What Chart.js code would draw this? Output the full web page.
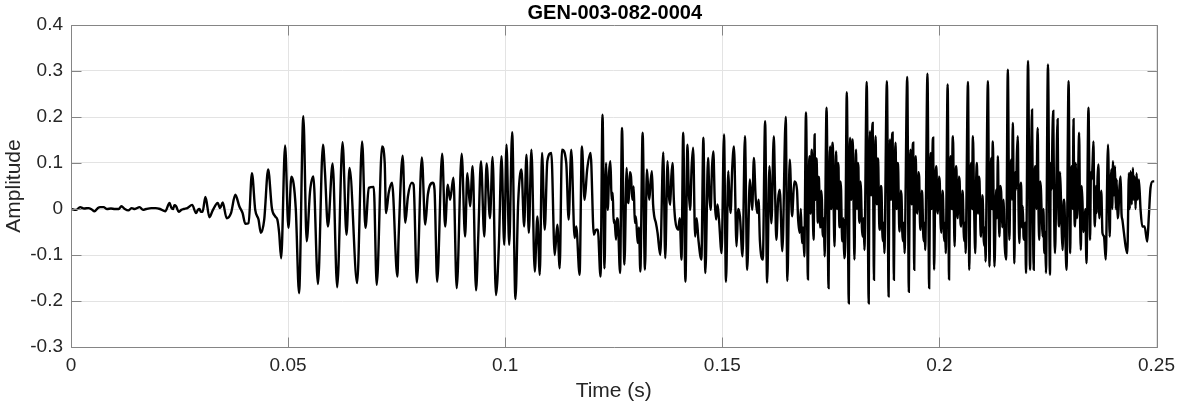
<!DOCTYPE html>
<html>
<head>
<meta charset="utf-8">
<title>GEN-003-082-0004</title>
<script src="https://cdn.jsdelivr.net/npm/chart.js@4.4.0/dist/chart.umd.min.js"></script>
<style>
  html, body { margin: 0; padding: 0; background: #ffffff; }
  #wrap { width: 1182px; height: 404px; position: relative; }
</style>
</head>
<body>
<div id="wrap"><canvas id="waveChart"></canvas></div>
<script>
const chartTitle = "GEN-003-082-0004";
const xAxisLabel = "Time (s)";
const yAxisLabel = "Amplitude";

const xTickValues = [0, 0.05, 0.1, 0.15, 0.2, 0.25];
const xTickLabels = ["0", "0.05", "0.1", "0.15", "0.2", "0.25"];
const yTickValues = [-0.3, -0.2, -0.1, 0, 0.1, 0.2, 0.3, 0.4];
const yTickLabels = ["-0.3", "-0.2", "-0.1", "0", "0.1", "0.2", "0.3", "0.4"];

// waveform, one pair of arrays per stretch of time
// quiet start and onset (0 - 0.075 s)
const onsetTime = [0, 0.0012, 0.0021, 0.003, 0.004, 0.0048, 0.0054, 0.0062, 0.0067, 0.0075,
  0.0083, 0.0092, 0.0101, 0.011, 0.0116, 0.0124, 0.0132, 0.014, 0.0147, 0.0158,
  0.0166, 0.0173, 0.0185, 0.0195, 0.0205, 0.0217, 0.0227, 0.0231, 0.0235, 0.0238,
  0.0242, 0.0248, 0.0254, 0.026, 0.0268, 0.0279, 0.0288, 0.0292, 0.0296, 0.0299,
  0.0303, 0.03096, 0.03188, 0.03264, 0.03379, 0.03433, 0.03494, 0.03585, 0.03685, 0.03784,
  0.03876, 0.03952, 0.04014, 0.0409, 0.04167, 0.04243, 0.04319, 0.04372, 0.0445, 0.04541,
  0.04626, 0.04702, 0.04752, 0.04794, 0.0484, 0.04931, 0.05007, 0.05076, 0.05176, 0.05252,
  0.05351, 0.05428, 0.05505, 0.05581, 0.05688, 0.05803, 0.05849, 0.05917, 0.06025, 0.06131,
  0.06254, 0.06345, 0.06415, 0.0659, 0.06705, 0.06781, 0.06858, 0.06972, 0.07041, 0.07164,
  0.07225, 0.07255, 0.07317, 0.07393, 0.07516];
const onsetAmp = [0, -0.002, 0.004, 0.001, 0.002, -0.001, -0.005, 0.002, 0.004, 0.004,
  0, 0.001, 0, 0, 0.006, 0, -0.003, 0.002, 0, 0.004,
  -0.002, 0, 0.002, 0.002, 0, -0.005, 0.013, 0.003, 0, 0.008,
  0.006, -0.006, -0.002, 0, 0.002, 0.009, -0.009, -0.002, 0, -0.006,
  -0.006, 0.026, -0.018, -0.003, 0.013, 0.002, 0.014, -0.02, -0.009, 0.031,
  0.006, -0.009, -0.032, -0.031, 0.078, -0.002, -0.023, -0.052, -0.023, 0.086,
  0.002, -0.016, -0.023, -0.052, -0.107, 0.138, -0.041, 0.07, 0.002, -0.183,
  0.202, -0.07, 0.038, 0.071, -0.163, 0.14, 0.08, -0.038, 0.099, -0.17,
  0.145, -0.056, 0.089, -0.161, 0.147, -0.041, 0.046, 0.048, -0.165, 0.136,
  0.1, -0.009, 0.035, 0.057, -0.147];

// 0.075 - 0.121 s
const midTime = [0.07546, 0.07638, 0.07699, 0.07759, 0.07851, 0.0789, 0.07966, 0.0808, 0.08158, 0.08218,
  0.08333, 0.08372, 0.08433, 0.08548, 0.08617, 0.08677, 0.08731, 0.08807, 0.08883, 0.08998,
  0.09076, 0.09128, 0.0919, 0.0925, 0.09328, 0.09381, 0.09442, 0.09518, 0.09571, 0.09649,
  0.09709, 0.09787, 0.09856, 0.09915, 0.09977, 0.1003, 0.10092, 0.1016, 0.10236, 0.10298,
  0.10374, 0.10436, 0.10489, 0.10544, 0.10603, 0.10681, 0.10741, 0.10796, 0.10849, 0.1091,
  0.1097, 0.11062, 0.1114, 0.112, 0.11255, 0.11307, 0.11406, 0.11461, 0.11521, 0.11599,
  0.11636, 0.11713, 0.11766, 0.11828, 0.11888, 0.11966, 0.12041, 0.12094];
const midAmp = [-0.06, 0.116, -0.03, 0.027, 0.057, 0.053, -0.16, 0.112, -0.034, 0.031,
  0.057, 0.042, -0.158, 0.12, -0.038, 0.053, 0.02, 0.068, -0.172, 0.12,
  -0.06, 0.078, 0.006, 0.093, -0.177, -0.056, 0.104, -0.06, 0.099, -0.02,
  0.113, -0.187, -0.074, 0.115, -0.078, 0.14, -0.078, 0.167, -0.196, 0.013,
  0.086, -0.038, 0.118, -0.052, 0.129, -0.136, -0.016, -0.143, 0.122, -0.045,
  0.104, 0.122, -0.1, -0.034, -0.129, 0.129, 0.1, -0.023, 0.129, -0.063,
  -0.038, -0.143, 0.136, 0.02, 0.086, 0.122, -0.056, -0.045];

// 0.121 - 0.167 s
const growthTime = [0.12133, 0.12195, 0.12241, 0.12287, 0.12323, 0.12343, 0.12362, 0.12393, 0.12424, 0.1245,
  0.12477, 0.12497, 0.12516, 0.12553, 0.12572, 0.12592, 0.12645, 0.1269, 0.12745, 0.12798,
  0.12821, 0.12844, 0.1287, 0.12897, 0.12928, 0.12959, 0.12985, 0.13011, 0.1305, 0.1308,
  0.13112, 0.13165, 0.13218, 0.13264, 0.1329, 0.13319, 0.13349, 0.13379, 0.13406, 0.13433,
  0.1347, 0.13509, 0.13571, 0.1364, 0.13686, 0.13739, 0.1377, 0.138, 0.13826, 0.13853,
  0.13884, 0.13915, 0.13984, 0.1402, 0.1406, 0.14099, 0.14151, 0.14197, 0.14228, 0.14259,
  0.14293, 0.14328, 0.14374, 0.1441, 0.1445, 0.14518, 0.14564, 0.1461, 0.14672, 0.14702,
  0.14732, 0.14763, 0.14794, 0.14825, 0.14856, 0.1489, 0.14924, 0.14984, 0.15039, 0.15085,
  0.15138, 0.15164, 0.1519, 0.15229, 0.15268, 0.15328, 0.15367, 0.15406, 0.15466, 0.15521,
  0.15573, 0.15635, 0.15688, 0.15727, 0.15765, 0.15803, 0.15835, 0.15865, 0.15933, 0.15986,
  0.16032, 0.16085, 0.16131, 0.16186, 0.16215, 0.16245, 0.16285, 0.16323, 0.16383, 0.16461,
  0.16498, 0.16553, 0.16606, 0.16658];
const growthAmp = [-0.045, -0.147, 0.205, -0.129, 0.1, 0.03, -0.002, 0.08, 0.104, 0.02,
  0.035, -0.03, -0.023, -0.067, -0.02, -0.023, -0.139, 0.176, -0.121, 0.089,
  0.02, 0.013, 0.08, 0.071, 0.02, 0.049, -0.03, -0.016, -0.074, -0.04,
  -0.136, 0.166, -0.132, 0.086, 0.05, 0.02, 0.06, 0.082, 0.01, -0.016,
  -0.03, -0.052, -0.1, 0.123, -0.107, 0.104, 0.03, 0.009, 0.07, 0.1,
  0.02, -0.023, -0.045, -0.02, -0.11, 0.166, -0.158, 0.14, 0.04, -0.002,
  0.09, 0.133, -0.06, -0.02, -0.067, -0.11, 0.155, -0.139, 0.111, 0.03,
  -0.002, 0.09, 0.125, 0.02, -0.023, 0.01, -0.023, -0.096, 0.162, -0.158,
  0.082, 0.02, -0.009, 0.09, 0.136, -0.081, 0, -0.016, -0.103, 0.158,
  -0.132, 0.064, -0.002, 0.111, 0.03, -0.009, 0.02, -0.067, -0.11, 0.191,
  -0.16, 0.093, -0.031, 0.158, 0.04, -0.067, 0.02, 0.042, -0.092, 0.2,
  -0.156, 0.107, -0.016, 0.06];

// 0.167 - 0.213 s, one row per spike period
const peakTime = [
  0.1672, 0.16745, 0.16782, 0.16808, 0.16835, 0.1686, 0.16888, 0.16927, 0.16972, 0.16992, 0.17011, 0.17024,
  0.17037, 0.1705, 0.17064, 0.17083, 0.17103, 0.17126, 0.17139, 0.17152, 0.17165, 0.17179, 0.17192, 0.17205,
  0.17218, 0.17232, 0.17247, 0.17262, 0.17278, 0.17294, 0.1731, 0.17325, 0.1734, 0.17355,
  0.17401, 0.17447, 0.17465, 0.17484, 0.175, 0.17515, 0.1753, 0.17546, 0.17565, 0.17585, 0.17603, 0.17622,
  0.17636, 0.1765, 0.17663, 0.17677, 0.17691, 0.17706, 0.17721, 0.17736, 0.17753, 0.1777, 0.17788, 0.17805, 0.17835,
  0.17867, 0.17913, 0.17928, 0.17943, 0.17958, 0.17974, 0.1799, 0.18005, 0.18024, 0.18044, 0.18062, 0.1808,
  0.18094, 0.18108, 0.18121, 0.18135, 0.1815, 0.18165, 0.1818, 0.18195, 0.18215, 0.18234, 0.18253, 0.18273,
  0.18326, 0.18372, 0.18387, 0.18402, 0.18417, 0.18432, 0.18447, 0.18463, 0.18478, 0.18493, 0.18512, 0.18532,
  0.18547, 0.18563, 0.18578, 0.18594, 0.18613, 0.18632, 0.18651, 0.1867, 0.18685, 0.187, 0.18716, 0.18732,
  0.18791, 0.1883, 0.18845, 0.1886, 0.18875, 0.18891, 0.18906, 0.18922, 0.18937, 0.18952, 0.18971, 0.18991,
  0.19006, 0.19022, 0.19037, 0.19053, 0.19071, 0.1909, 0.19109, 0.19128, 0.19145, 0.19162, 0.1918, 0.19197,
  0.19259, 0.19296, 0.19315, 0.19335, 0.1935, 0.19366, 0.19381, 0.19397, 0.19408, 0.1942, 0.19438, 0.19456,
  0.19475, 0.19495, 0.19514, 0.19534, 0.19553, 0.19572, 0.19591, 0.1961, 0.19625, 0.1964, 0.19656, 0.19672,
  0.19725, 0.19764, 0.19782, 0.198, 0.19814, 0.19828, 0.19842, 0.19856, 0.19867, 0.19878, 0.19905, 0.19931,
  0.1995, 0.19968, 0.19988, 0.20007, 0.20027, 0.20046, 0.20066, 0.20085, 0.201, 0.20115, 0.2013, 0.20145,
  0.2019, 0.20222, 0.2024, 0.20259, 0.20273, 0.20287, 0.203, 0.20314, 0.20333, 0.20351, 0.2037, 0.2039,
  0.20409, 0.20428, 0.20447, 0.20466, 0.20486, 0.20505, 0.20525, 0.20544, 0.20559, 0.20574, 0.20589, 0.20603,
  0.20658, 0.20688, 0.20711, 0.20734, 0.20744, 0.20754, 0.20763, 0.20773, 0.208, 0.20826, 0.20846, 0.20865,
  0.2088, 0.20895, 0.2091, 0.20924, 0.20944, 0.20963, 0.20983, 0.21002, 0.21017, 0.21032, 0.21047, 0.21062,
  0.21117, 0.21154, 0.21173, 0.21193, 0.21203, 0.21213, 0.21223, 0.21232, 0.2125, 0.21268];
const peakAmp = [
  0.042, -0.02, -0.052, 0, -0.074, -0.04, -0.103, 0.21, -0.153, 0.06, 0.115, 0,
  -0.01, 0.1, 0.129, 0, -0.067, 0.162, 0.03, 0.02, 0.11, 0.085, -0.01, -0.03,
  0.07, 0.05, -0.04, -0.038, 0.04, 0.02, -0.05, -0.06, -0.02, -0.103,
  0.22, -0.172, 0.05, 0.136, 0.02, 0, 0.12, 0.144, 0, -0.081, 0.06, 0.125,
  0.01, 0, 0.1, 0.09, -0.02, -0.04, 0.06, 0.04, -0.05, -0.07, -0.02, -0.107, -0.06,
  0.254, -0.205, 0.06, 0.155, 0.03, 0.02, 0.13, 0.151, 0, -0.11, 0.06, 0.129,
  0.01, 0, 0.1, 0.09, -0.02, -0.03, 0.06, 0.04, -0.04, -0.06, -0.02, -0.089,
  0.276, -0.205, 0.07, 0.169, 0.04, 0.03, 0.15, 0.187, 0, -0.154, 0.08, 0.158,
  0.02, 0.01, 0.11, 0.09, -0.03, -0.045, 0.05, 0.03, -0.05, -0.07, -0.03, -0.096,
  0.278, -0.19, 0.05, 0.151, 0.03, 0.02, 0.14, 0.166, 0, -0.154, 0.07, 0.144,
  0.02, 0, 0.1, 0.08, -0.03, -0.049, 0.04, 0.027, -0.05, -0.07, -0.03, -0.096,
  0.287, -0.18, 0.05, 0.129, 0.02, 0.01, 0.12, 0.144, 0, -0.132, 0.06, 0.115,
  0, -0.01, 0.08, 0.07, -0.03, -0.045, 0.04, 0.02, -0.05, -0.07, -0.03, -0.089,
  0.294, -0.172, 0.04, 0.122, 0.02, 0, 0.13, 0.155, 0, -0.132, 0.05, 0.093,
  0, -0.01, 0.07, 0.06, -0.03, -0.052, 0.04, 0.02, -0.05, -0.07, -0.03, -0.096,
  0.271, -0.153, 0.05, 0.115, 0.02, 0, 0.13, 0.158, 0, -0.081, 0.06, 0.093,
  0, -0.02, 0.07, 0.06, -0.03, -0.038, 0.04, 0.02, -0.05, -0.07, -0.03, -0.096,
  0.276, -0.132, 0.05, 0.1, 0.02, 0, 0.12, 0.158, 0, -0.096, 0.06, 0.1,
  0, -0.01, 0.07, 0.06, -0.04, -0.06, 0.03, 0.01, -0.06, -0.08, -0.04, -0.114,
  0.278, -0.125, 0.04, 0.111, 0.02, 0, 0.12, 0.147, 0, -0.125];

// 0.213 - 0.25 s
const tailTime = [0.21307, 0.21326, 0.21346, 0.21365, 0.21383, 0.21402, 0.21422, 0.21448, 0.21475, 0.21505,
  0.21537, 0.21576, 0.21612, 0.21631, 0.21651, 0.2167, 0.2169, 0.21727, 0.21746, 0.21766,
  0.21785, 0.21805, 0.21823, 0.21842, 0.21862, 0.21881, 0.219, 0.2192, 0.21938, 0.21956,
  0.21975, 0.21995, 0.22041, 0.22087, 0.2211, 0.22133, 0.22152, 0.22172, 0.2219, 0.22209,
  0.22237, 0.2225, 0.22264, 0.22282, 0.223, 0.2232, 0.22339, 0.22358, 0.22378, 0.22396,
  0.22415, 0.22435, 0.22454, 0.225, 0.22546, 0.22565, 0.22585, 0.22603, 0.22622, 0.22641,
  0.22661, 0.22692, 0.22707, 0.22722, 0.2274, 0.22759, 0.22778, 0.22798, 0.22818, 0.22837,
  0.22855, 0.22874, 0.229, 0.22928, 0.22975, 0.23011, 0.2303, 0.2305, 0.2307, 0.23089,
  0.23107, 0.23126, 0.2314, 0.23154, 0.23168, 0.23181, 0.232, 0.23218, 0.23237, 0.23257,
  0.23276, 0.23296, 0.23315, 0.23333, 0.2336, 0.23387, 0.23433, 0.2347, 0.2349, 0.23509,
  0.23528, 0.23548, 0.23566, 0.23585, 0.23605, 0.23624, 0.23643, 0.23663, 0.23682, 0.237,
  0.23728, 0.23755, 0.23791, 0.2383, 0.23883, 0.23922, 0.23941, 0.23961, 0.2398, 0.23998,
  0.24021, 0.24044, 0.24063, 0.24083, 0.24102, 0.24122, 0.24148, 0.24174, 0.24194, 0.24213,
  0.2425, 0.24289, 0.24328, 0.24365, 0.24384, 0.24404, 0.2443, 0.24457, 0.24476, 0.24495,
  0.24518, 0.24541, 0.24567, 0.24594, 0.24633, 0.24672, 0.24725, 0.24787, 0.24823, 0.24862,
  0.24915, 0.24947];
const tailAmp = [0.042, -0.02, 0.115, 0, -0.06, 0.05, 0.038, -0.04, 0.02, -0.081,
  -0.11, 0.303, -0.067, 0.05, 0.107, 0.02, 0.187, -0.118, 0.08, 0.042,
  0.12, 0.158, 0, -0.074, 0.03, 0.057, -0.04, 0.006, -0.06, -0.067,
  -0.03, -0.139, 0.322, -0.132, 0.08, 0.216, 0, -0.132, 0.05, 0.093,
  0, 0.12, 0.176, 0, -0.067, 0.06, 0.042, -0.02, -0.06, 0,
  -0.096, -0.05, -0.139, 0.314, -0.143, 0.1, 0.042, 0.16, 0.213, 0,
  -0.096, 0.05, 0.15, 0.195, 0, -0.038, 0.08, 0.027, -0.05, -0.089,
  0, 0.02, -0.06, -0.132, 0.278, -0.096, 0.05, 0.093, 0, 0.195,
  0, -0.038, 0.1, 0.06, -0.02, -0.002, 0.1, 0.166, 0, -0.089,
  0.05, 0.013, -0.05, -0.038, 0, -0.118, 0.22, -0.067, 0.08, 0.064,
  0.1, 0.147, 0, -0.038, 0.05, -0.009, 0.07, 0.097, -0.02, 0.006,
  0.04, -0.052, -0.06, -0.11, 0.14, -0.06, 0.05, 0.086, 0, 0.104,
  0.03, 0.093, 0, 0.064, -0.02, -0.009, 0.05, 0.071, -0.01, -0.023,
  -0.052, -0.081, -0.096, 0.078, 0, 0.082, 0.01, 0.089, 0.02, 0.071,
  0, 0.078, 0.02, 0.064, -0.002, -0.038, -0.038, -0.071, -0.016, 0.046,
  0.06, 0.06];

const timeParts = [onsetTime, midTime, growthTime, peakTime, tailTime];
const ampParts = [onsetAmp, midAmp, growthAmp, peakAmp, tailAmp];

const points = [];
timeParts.forEach((times, i) => {
  if (times.length !== ampParts[i].length) {
    console.error("segment " + i + " length mismatch", times.length, ampParts[i].length);
  }
  times.forEach((t, j) => points.push({ x: t, y: ampParts[i][j] }));
});

const FONT = "'Liberation Sans', Arial, Helvetica, sans-serif";
const TEXT_COLOR = "#262626";
const BOX_COLOR = "#858585";

// MATLAB-like box with inward ticks, plus title and axis labels
const axesBox = {
  id: "axesBox",
  afterDatasetsDraw(chart) {
    const { ctx, chartArea: a, scales } = chart;
    const left = Math.round(a.left) + 0.5;
    const right = Math.round(a.right) + 0.5;
    const top = Math.round(a.top) + 0.5;
    const bottom = Math.round(a.bottom) + 0.5;
    const tick = 10;

    ctx.save();
    ctx.strokeStyle = BOX_COLOR;
    ctx.lineWidth = 1;
    ctx.beginPath();
    ctx.moveTo(left, top);
    ctx.lineTo(right, top);
    ctx.lineTo(right, bottom);
    ctx.lineTo(left, bottom);
    ctx.closePath();
    xTickValues.forEach((v) => {
      const px = Math.round(scales.x.getPixelForValue(v)) + 0.5;
      ctx.moveTo(px, bottom);
      ctx.lineTo(px, bottom - tick);
      ctx.moveTo(px, top);
      ctx.lineTo(px, top + tick);
    });
    yTickValues.forEach((v) => {
      const py = Math.round(scales.y.getPixelForValue(v)) + 0.5;
      ctx.moveTo(left, py);
      ctx.lineTo(left + tick, py);
      ctx.moveTo(right, py);
      ctx.lineTo(right - tick, py);
    });
    ctx.stroke();

    const cx = (a.left + a.right) / 2;
    const cy = (a.top + a.bottom) / 2;
    ctx.fillStyle = "#000000";
    ctx.textAlign = "center";
    ctx.textBaseline = "alphabetic";
    ctx.font = "bold 20px " + FONT;
    ctx.fillText(chartTitle, cx + 1, 18.5);

    ctx.fillStyle = TEXT_COLOR;
    ctx.font = "21px " + FONT;
    ctx.fillText(xAxisLabel, cx, 397);

    ctx.translate(19.5, cy);
    ctx.rotate(-Math.PI / 2);
    ctx.fillText(yAxisLabel, 0, 0);
    ctx.restore();
  },
};

new Chart(document.getElementById("waveChart"), {
  type: "line",
  data: {
    datasets: [
      {
        data: points,
        borderColor: "#000000",
        borderWidth: 2.4,
        pointRadius: 0,
        cubicInterpolationMode: "monotone",
        fill: false,
      },
    ],
  },
  options: {
    responsive: true,
    maintainAspectRatio: false,
    animation: false,
    layout: { padding: { top: 25, right: 21, left: 0, bottom: 0 } },
    plugins: {
      legend: { display: false },
      title: { display: false },
      tooltip: { enabled: false },
    },
    scales: {
      x: {
        type: "linear",
        min: 0,
        max: 0.25,
        afterFit: (scale) => { scale.height = 57; },
        afterBuildTicks: (scale) => { scale.ticks = xTickValues.map((v) => ({ value: v })); },
        grid: { color: "#e3e3e3", drawTicks: false },
        border: { display: false },
        ticks: {
          padding: 7,
          maxRotation: 0,
          color: TEXT_COLOR,
          font: { family: FONT, size: 19 },
          callback: (value, index) => xTickLabels[index],
        },
      },
      y: {
        type: "linear",
        min: -0.3,
        max: 0.4,
        afterFit: (scale) => { scale.width = 71; },
        afterBuildTicks: (scale) => { scale.ticks = yTickValues.map((v) => ({ value: v })); },
        grid: { color: "#e3e3e3", drawTicks: false },
        border: { display: false },
        ticks: {
          padding: 8,
          color: TEXT_COLOR,
          font: { family: FONT, size: 19 },
          callback: (value, index) => yTickLabels[index],
        },
      },
    },
  },
  plugins: [axesBox],
});
</script>
</body>
</html>
